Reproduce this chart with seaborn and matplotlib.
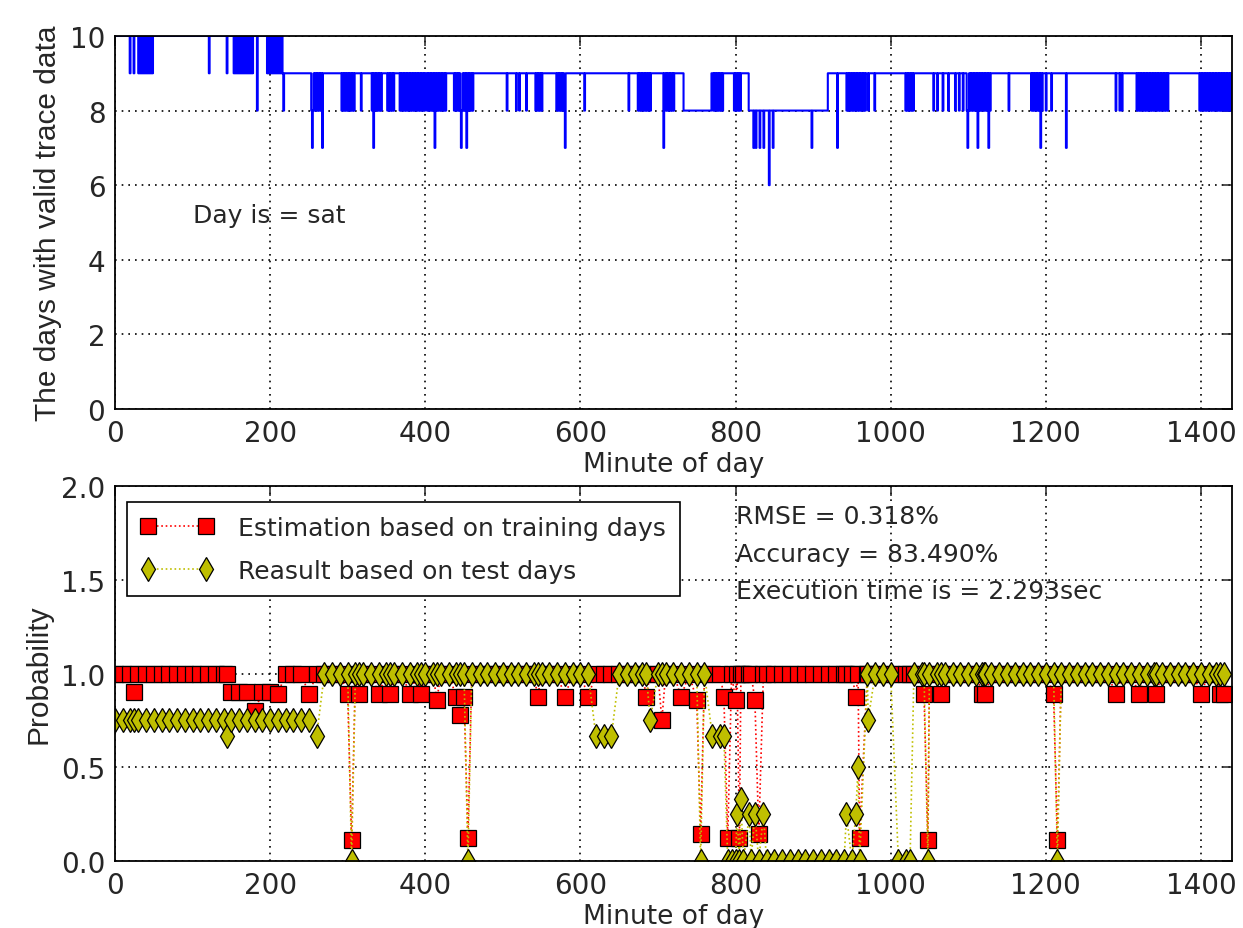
import numpy as np
import pandas as pd
import matplotlib
matplotlib.use('Agg')
import matplotlib.pyplot as plt
from matplotlib.ticker import FormatStrFormatter
import seaborn as sns

sns.set_style('white')
plt.rcParams['font.family'] = ['DejaVu Sans']

####### top panel: days with valid trace data #######
# base level of the step trace (start minute, level)
base_start = [0, 217, 733, 769, 817, 919]
base_level = [10, 9, 8, 9, 8, 9]

# dense flicker blocks (start, end, lower level)
flick_start = [30, 153, 196, 253, 292, 331, 351, 367, 402, 437, 542, 569, 674,
               710, 771, 798, 943, 1019, 1098, 1181, 1317, 1398]
flick_end = [48, 178, 216, 267, 308, 344, 360, 399, 426, 462, 551, 580, 690,
             721, 783, 807, 967, 1029, 1129, 1195, 1357, 1438]
flick_level = [9, 9, 9, 8, 8, 8, 8, 8, 8, 8, 8, 8, 8,
               8, 8, 8, 8, 8, 8, 8, 8, 8]

# single minute dips
dip_min = [19, 24, 121, 144, 183, 217, 254, 267, 317, 333, 412, 446, 453, 505,
           517, 521, 530, 580, 605, 662, 707, 823, 826, 831, 836, 843, 848, 898,
           931, 971, 979, 1055, 1060, 1067, 1074, 1083, 1088, 1093, 1099, 1112,
           1126, 1152, 1193, 1200, 1207, 1226, 1290, 1295, 1298]
dip_level = [9, 9, 9, 9, 8, 8, 7, 7, 8, 7, 7, 7, 7, 8,
             8, 8, 8, 7, 8, 8, 7, 7, 7, 7, 7, 6, 7, 7,
             7, 8, 8, 8, 8, 8, 8, 8, 8, 8, 7, 7,
             7, 8, 7, 8, 8, 7, 8, 8, 8]

####### bottom panel: estimation vs result #######
grid_min = list(range(0, 1440, 10))

est_min = [25, 150, 160, 170, 180, 190, 200, 210, 250, 300, 305, 315, 340, 355,
           380, 395, 415, 440, 445, 450, 455, 545, 580, 610, 685, 705, 730, 750,
           755, 785, 790, 800, 805, 825, 830, 955, 960, 1043, 1048, 1065, 1118,
           1122, 1210, 1215, 1290, 1320, 1342, 1400, 1425, 1430]
est_val = [0.9, 0.9, 0.9, 0.9, 0.8, 0.9, 0.9, 0.889, 0.889, 0.889, 0.111, 0.889,
           0.889, 0.889, 0.889, 0.889, 0.857, 0.875, 0.778, 0.875, 0.125, 0.875,
           0.875, 0.875, 0.875, 0.75, 0.875, 0.857, 0.143, 0.875, 0.125, 0.857,
           0.125, 0.857, 0.143, 0.875, 0.125, 0.889, 0.111, 0.889, 0.889, 0.889,
           0.889, 0.111, 0.889, 0.889, 0.889, 0.889, 0.889, 0.889]

# result levels held over a stretch of samples (start, end, value)
res_run_start = [0, 790, 1010]
res_run_end = [250, 960, 1020]
res_run_val = [0.75, 0.0, 0.0]

res_min = [145, 260, 305, 455, 620, 630, 640, 690, 755, 770, 780, 785, 795, 802,
           807, 818, 825, 836, 943, 955, 958, 971, 1025, 1048, 1215]
res_val = [0.667, 0.667, 0.0, 0.0, 0.667, 0.667, 0.667, 0.75, 0.0, 0.667, 0.667,
           0.667, 0.0, 0.25, 0.333, 0.25, 0.25, 0.25, 0.25, 0.25, 0.5, 0.75, 0.0,
           0.0, 0.0]

# ---- build the per-minute trace ----
minute = np.arange(0, 1441)
days = np.zeros(len(minute))
for s, lv in zip(base_start, base_level):
    days[minute >= s] = lv
for a, b, lv in zip(flick_start, flick_end, flick_level):
    days[a:b + 1:2] = lv
for m, lv in zip(dip_min, dip_level):
    days[m] = lv

# ---- build the sampled series ----
times = sorted(set(grid_min) | set(est_min) | set(res_min))
est = pd.Series(1.0, index=times)
est[est_min] = est_val
res = pd.Series(1.0, index=times)
for a, b, v in zip(res_run_start, res_run_end, res_run_val):
    res[(res.index >= a) & (res.index <= b)] = v
res[res_min] = res_val

fig = plt.figure(figsize=(12.43, 9.29), dpi=100)
ax1 = fig.add_axes([0.0925, 0.5587, 0.8986, 0.4015])
ax2 = fig.add_axes([0.0925, 0.0721, 0.8986, 0.4037])

sns.lineplot(x=minute, y=days, ax=ax1, color='#0000ff', lw=1.5,
             drawstyle='steps-post', estimator=None)

sns.lineplot(x=est.index, y=est.values, ax=ax2, color='#ff0000', lw=1.2,
             linestyle=':', marker='s', markersize=11, markeredgecolor='k',
             markeredgewidth=0.9, estimator=None,
             label='Estimation based on training days')
sns.lineplot(x=res.index, y=res.values, ax=ax2, color='#bfbf00', lw=1.2,
             linestyle=':', marker='d', markersize=12.5, markeredgecolor='k',
             markeredgewidth=0.9, estimator=None,
             label='Reasult based on test days')

lab_font = ['Liberation Sans', 'DejaVu Sans']
for ax in (ax1, ax2):
    ax.set_xlim(0, 1440)
    ax.set_xticks(range(0, 1401, 200))
    ax.grid(True, color='k', linestyle=(0, (1, 3)), linewidth=1.2)
    ax.tick_params(direction='in', top=True, right=True, length=7, width=1.1,
                   labelsize=20, pad=7)
    for sp in ax.spines.values():
        sp.set_linewidth(1.3)
        sp.set_color('k')
    ax.set_xlabel('Minute of day', fontsize=19, labelpad=3)

ax1.set_ylim(0, 10)
ax1.set_yticks(range(0, 11, 2))
ax1.set_ylabel('The days with valid trace data', fontsize=21.5,
               family=lab_font, labelpad=6)
ax1.text(100, 5, 'Day is = sat', fontsize=18)

ax2.set_ylim(0, 2.0)
ax2.set_yticks([0, 0.5, 1.0, 1.5, 2.0])
ax2.yaxis.set_major_formatter(FormatStrFormatter('%.1f'))
ax2.set_ylabel('Probability', fontsize=21.5, family=lab_font, labelpad=6)
ax2.text(800, 1.8, 'RMSE = 0.318%', fontsize=18)
ax2.text(800, 1.6, 'Accuracy = 83.490%', fontsize=18)
ax2.text(800, 1.4, 'Execution time is = 2.293sec', fontsize=18)

leg = ax2.legend(loc='upper left', bbox_to_anchor=(0.0107, 0.957),
                 borderaxespad=0, fontsize=18, numpoints=2, handlelength=2.9,
                 handletextpad=1.0, borderpad=0.55, labelspacing=0.75,
                 fancybox=False, framealpha=1)
leg.get_frame().set_edgecolor('k')
leg.get_frame().set_linewidth(1.2)

fig.savefig('out.png', dpi=100)
